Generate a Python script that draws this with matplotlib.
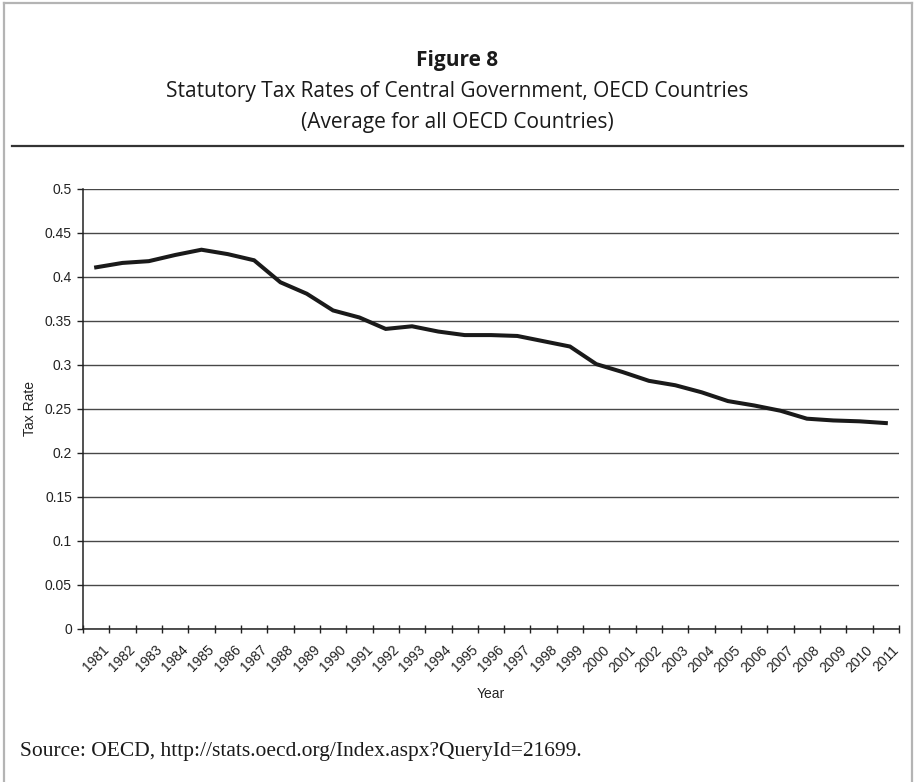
import matplotlib
matplotlib.use("Agg")
import matplotlib.pyplot as plt
from matplotlib.lines import Line2D
import matplotlib.transforms as mtransforms
import numpy as np

years = [str(y) for y in range(1981, 2012)]
tax_rate = [0.411, 0.416, 0.418, 0.425, 0.431, 0.426, 0.419, 0.394, 0.381, 0.362,
            0.354, 0.341, 0.344, 0.338, 0.334, 0.334, 0.333, 0.327, 0.321, 0.301,
            0.292, 0.282, 0.277, 0.269, 0.259, 0.254, 0.248, 0.239, 0.237, 0.236,
            0.234]
y_ticks = [0, 0.05, 0.1, 0.15, 0.2, 0.25, 0.3, 0.35, 0.4, 0.45, 0.5]
y_labels = ["0", "0.05", "0.1", "0.15", "0.2", "0.25", "0.3", "0.35", "0.4", "0.45", "0.5"]

W, H = 914, 782
fig = plt.figure(figsize=(W / 100, H / 100), dpi=100)

def fx(px):
    return px / W

def fy(py):
    return 1 - py / H

# outer grey border (left, top, right)
border = dict(color="#b4b4b4", lw=1.6, transform=fig.transFigure)
fig.add_artist(Line2D([fx(4), fx(4)], [0, fy(3)], **border))
fig.add_artist(Line2D([fx(4), fx(912)], [fy(3), fy(3)], **border))
fig.add_artist(Line2D([fx(912), fx(912)], [0, fy(3)], **border))

# titles
tfont = "Open Sans"
fig.text(0.5, fy(66), "Figure 8", ha="center", va="baseline", fontsize=15,
         fontweight="bold", family=tfont, color="#1a1a1a")
fig.text(0.5, fy(97), "Statutory Tax Rates of Central Government, OECD Countries",
         ha="center", va="baseline", fontsize=15, family=tfont, color="#1a1a1a")
fig.text(0.5, fy(128), "(Average for all OECD Countries)",
         ha="center", va="baseline", fontsize=15, family=tfont, color="#1a1a1a")

# horizontal rule
fig.add_artist(Line2D([fx(12), fx(903)], [fy(146), fy(146)], color="#333333", lw=1.6,
                      transform=fig.transFigure))

# axes
ax = fig.add_axes([fx(83), fy(629), fx(899) - fx(83), fy(189) - fy(629)])
x = np.arange(len(years))
ax.plot(x, tax_rate, color="#1a1a1a", lw=2.9, solid_joinstyle="miter", zorder=3)

ax.set_xlim(-0.5, len(years) - 0.5)
ax.set_ylim(0, 0.5)
ax.set_yticks(y_ticks)
ax.set_yticklabels(y_labels)
ax.yaxis.grid(True, color="#484848", lw=1.0)
ax.set_axisbelow(True)

ax.set_xticks(np.arange(-0.5, len(years), 1.0))
ax.set_xticklabels([])
ax.set_xticks(x, minor=True)
ax.set_xticklabels(years, minor=True, rotation=45, ha="right", va="top",
                   rotation_mode="anchor")
ax.tick_params(axis="x", which="major", direction="inout", length=6, width=1,
               color="#222222")
ax.tick_params(axis="x", which="minor", length=0, pad=10)
ax.tick_params(axis="y", direction="out", length=4, width=1, color="#222222", pad=4)
offset = mtransforms.ScaledTranslation(6 / 100, 0, fig.dpi_scale_trans)
for lab in ax.get_xticklabels(minor=True):
    lab.set_transform(lab.get_transform() + offset)
for lab in ax.get_xticklabels(minor=True) + ax.get_yticklabels():
    lab.set_family("Liberation Sans")
    lab.set_fontsize(10)
    lab.set_color("#222222")

for s in ["top", "right"]:
    ax.spines[s].set_visible(False)
ax.spines["left"].set_color("#222222")
ax.spines["bottom"].set_color("#222222")
ax.spines["left"].set_linewidth(1.1)
ax.spines["bottom"].set_linewidth(1.1)

fig.text(fx(30), (fy(629) + fy(189)) / 2, "Tax Rate", rotation=90, ha="center",
         va="center", fontsize=10, family="Liberation Sans", color="#222222")
fig.text((fx(83) + fx(899)) / 2, fy(694), "Year", ha="center", va="center",
         fontsize=10, family="Liberation Sans", color="#222222")

fig.text(fx(20), fy(756), "Source: OECD, http://stats.oecd.org/Index.aspx?QueryId=21699.",
         ha="left", va="baseline", fontsize=15.5, family="Liberation Serif",
         color="#1a1a1a")

fig.savefig("out.png", dpi=100)
